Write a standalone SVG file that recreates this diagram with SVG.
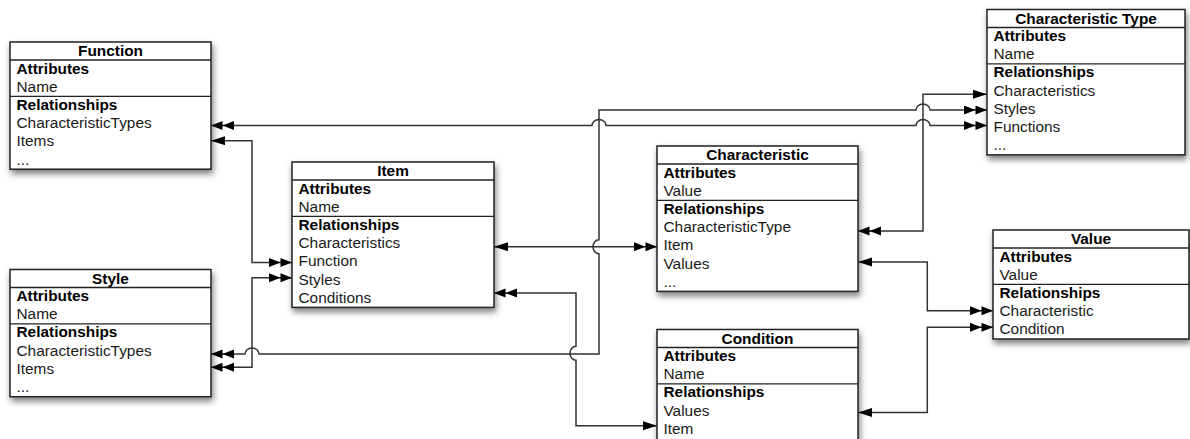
<svg xmlns="http://www.w3.org/2000/svg" width="1190" height="439" viewBox="0 0 1190 439">
  <style>
    .box { fill: #fff; stroke: #222; stroke-width: 1.5; }
    .sep { stroke: #222; stroke-width: 1.3; }
    text { font-family: "Liberation Sans", Arial, Helvetica, sans-serif; font-size: 15.4px; fill: #1a1a1a; }
    .title { font-weight: bold; text-anchor: middle; fill: #000; }
    .sec { font-weight: bold; fill: #000; }
    .conn { fill: none; stroke: #333; stroke-width: 1.5; }
  </style>
  <defs>
    <filter id="shadow" x="-10%" y="-10%" width="125%" height="130%">
      <feDropShadow dx="1.5" dy="4" stdDeviation="3" flood-color="#000" flood-opacity="0.5"/>
    </filter>
    <marker id="single" markerUnits="userSpaceOnUse" markerWidth="15" markerHeight="10" refX="14" refY="4.5" orient="auto-start-reverse">
      <path d="M0,0 L14,4.5 L0,9 Z" fill="#000"/>
    </marker>
    <marker id="double" markerUnits="userSpaceOnUse" markerWidth="24" markerHeight="10" refX="23" refY="4.5" orient="auto-start-reverse">
      <path d="M0,0 L11.5,4.5 L0,9 Z M11.5,0 L23,4.5 L11.5,9 Z" fill="#000"/>
    </marker>
  </defs>

  <!-- entity boxes -->
  <g id="function">
    <rect class="box" x="10" y="42" width="201" height="127.2" filter="url(#shadow)"/>
    <line class="sep" x1="10" y1="60" x2="211" y2="60"/>
    <line class="sep" x1="10" y1="96.4" x2="211" y2="96.4"/>
    <text class="title" x="110.5" y="56">Function</text>
    <text class="sec" x="16.5" y="73.5">Attributes</text>
    <text x="16.5" y="91.7">Name</text>
    <text class="sec" x="16.5" y="109.9">Relationships</text>
    <text x="16.5" y="128.1">CharacteristicTypes</text>
    <text x="16.5" y="146.3">Items</text>
    <text x="16.5" y="164.5">...</text>
  </g>

  <g id="style">
    <rect class="box" x="10" y="269.5" width="201" height="127.2" filter="url(#shadow)"/>
    <line class="sep" x1="10" y1="287.5" x2="211" y2="287.5"/>
    <line class="sep" x1="10" y1="323.9" x2="211" y2="323.9"/>
    <text class="title" x="110.5" y="283.5">Style</text>
    <text class="sec" x="16.5" y="301">Attributes</text>
    <text x="16.5" y="319.2">Name</text>
    <text class="sec" x="16.5" y="337.4">Relationships</text>
    <text x="16.5" y="355.6">CharacteristicTypes</text>
    <text x="16.5" y="373.8">Items</text>
    <text x="16.5" y="392">...</text>
  </g>

  <g id="item">
    <rect class="box" x="292" y="162" width="202" height="145.4" filter="url(#shadow)"/>
    <line class="sep" x1="292" y1="180" x2="494" y2="180"/>
    <line class="sep" x1="292" y1="216.4" x2="494" y2="216.4"/>
    <text class="title" x="393" y="176">Item</text>
    <text class="sec" x="298.5" y="193.5">Attributes</text>
    <text x="298.5" y="211.7">Name</text>
    <text class="sec" x="298.5" y="229.9">Relationships</text>
    <text x="298.5" y="248.1">Characteristics</text>
    <text x="298.5" y="266.3">Function</text>
    <text x="298.5" y="284.5">Styles</text>
    <text x="298.5" y="302.7">Conditions</text>
  </g>

  <g id="characteristic">
    <rect class="box" x="657" y="146" width="201" height="145.4" filter="url(#shadow)"/>
    <line class="sep" x1="657" y1="164" x2="858" y2="164"/>
    <line class="sep" x1="657" y1="200.4" x2="858" y2="200.4"/>
    <text class="title" x="757.5" y="160">Characteristic</text>
    <text class="sec" x="663.5" y="177.5">Attributes</text>
    <text x="663.5" y="195.7">Value</text>
    <text class="sec" x="663.5" y="213.9">Relationships</text>
    <text x="663.5" y="232.1">CharacteristicType</text>
    <text x="663.5" y="250.3">Item</text>
    <text x="663.5" y="268.5">Values</text>
    <text x="663.5" y="286.7">...</text>
  </g>

  <g id="characteristic-type">
    <rect class="box" x="987" y="9.5" width="198" height="145.4" filter="url(#shadow)"/>
    <line class="sep" x1="987" y1="27.5" x2="1185" y2="27.5"/>
    <line class="sep" x1="987" y1="63.9" x2="1185" y2="63.9"/>
    <text class="title" x="1086" y="23.5">Characteristic Type</text>
    <text class="sec" x="993.5" y="41">Attributes</text>
    <text x="993.5" y="59.2">Name</text>
    <text class="sec" x="993.5" y="77.4">Relationships</text>
    <text x="993.5" y="95.6">Characteristics</text>
    <text x="993.5" y="113.8">Styles</text>
    <text x="993.5" y="132">Functions</text>
    <text x="993.5" y="150.2">...</text>
  </g>

  <g id="value">
    <rect class="box" x="993" y="230" width="196" height="109" filter="url(#shadow)"/>
    <line class="sep" x1="993" y1="248" x2="1189" y2="248"/>
    <line class="sep" x1="993" y1="284.4" x2="1189" y2="284.4"/>
    <text class="title" x="1091" y="244">Value</text>
    <text class="sec" x="999.5" y="261.5">Attributes</text>
    <text x="999.5" y="279.7">Value</text>
    <text class="sec" x="999.5" y="297.9">Relationships</text>
    <text x="999.5" y="316.1">Characteristic</text>
    <text x="999.5" y="334.3">Condition</text>
  </g>

  <g id="condition">
    <rect class="box" x="657" y="329.5" width="201" height="112" filter="url(#shadow)"/>
    <line class="sep" x1="657" y1="347.5" x2="858" y2="347.5"/>
    <line class="sep" x1="657" y1="383.9" x2="858" y2="383.9"/>
    <text class="title" x="757.5" y="343.5">Condition</text>
    <text class="sec" x="663.5" y="361">Attributes</text>
    <text x="663.5" y="379.2">Name</text>
    <text class="sec" x="663.5" y="397.4">Relationships</text>
    <text x="663.5" y="415.6">Values</text>
    <text x="663.5" y="433.8">Item</text>
  </g>

  <!-- relationship connectors (line hops where paths cross) -->
  <g id="connectors">
    <!-- Function.CharacteristicTypes <-> CharacteristicType.Functions -->
    <path class="conn" d="M211,125.5 H592 a7,6 0 0 1 14,0 H916 a7,6 0 0 1 14,0 H987" marker-start="url(#double)" marker-end="url(#double)"/>
    <!-- Style.CharacteristicTypes <-> CharacteristicType.Styles -->
    <path class="conn" d="M211,354 H245 a7,6 0 0 1 14,0 H599 V253.7 a6,7 0 0 1 0,-14 V110 H916 a7,6 0 0 1 14,0 H987" marker-start="url(#double)" marker-end="url(#double)"/>
    <!-- Function.Items <-> Item.Function -->
    <path class="conn" d="M211,140.7 H252 V262.5 H292" marker-start="url(#single)" marker-end="url(#double)"/>
    <!-- Style.Items <-> Item.Styles -->
    <path class="conn" d="M211,367.3 H252 V277.7 H292" marker-start="url(#double)" marker-end="url(#double)"/>
    <!-- Item.Characteristics <-> Characteristic.Item -->
    <path class="conn" d="M494,246.7 H657" marker-start="url(#single)" marker-end="url(#double)"/>
    <!-- Characteristic.CharacteristicType <-> CharacteristicType.Characteristics -->
    <path class="conn" d="M858,231 H923 V94.3 H987" marker-start="url(#double)" marker-end="url(#single)"/>
    <!-- Characteristic.Values <-> Value.Characteristic -->
    <path class="conn" d="M858,262 H927.3 V310.7 H993" marker-start="url(#single)" marker-end="url(#double)"/>
    <!-- Condition.Values <-> Value.Condition -->
    <path class="conn" d="M858,412.5 H927.3 V327.3 H993" marker-start="url(#single)" marker-end="url(#double)"/>
    <!-- Item.Conditions <-> Condition.Item -->
    <path class="conn" d="M494,293 H576 V346.3 a6,7 0 0 0 0,14 V425.7 H657" marker-start="url(#double)" marker-end="url(#single)"/>
  </g>
</svg>
